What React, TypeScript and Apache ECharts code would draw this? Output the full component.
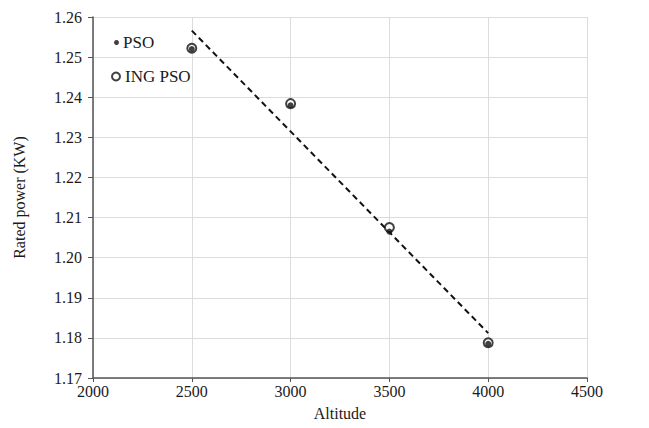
import React, { useEffect, useRef } from "react";
import * as echarts from "echarts";

const altitudes = [2500, 3000, 3500, 4000];
const psoValues = [1.252, 1.238, 1.2065, 1.1785];
const ingPsoValues = [1.2522, 1.2384, 1.2075, 1.1788];
const trendX = [2500, 4000];
const trendY = [1.2566, 1.1812];

const xTicks = { min: 2000, max: 4500, interval: 500 };
const yTicks = { min: 1.17, max: 1.26, interval: 0.01 };

const FONT = "'Liberation Serif', 'Times New Roman', serif";

export default function App() {
  const ref = useRef<HTMLDivElement>(null);
  useEffect(() => {
    if (!ref.current) return;
    const chart = echarts.init(ref.current, undefined, { renderer: "svg" });
    chart.setOption({
      animation: false,
      backgroundColor: "#ffffff",
      textStyle: { fontFamily: FONT },
      grid: { left: 93, right: 62, top: 17, bottom: 50 },
      legend: [
        {
          data: [{ name: "PSO", icon: "circle" }],
          left: 109,
          top: 29,
          itemWidth: 5,
          itemHeight: 5,
          itemGap: 6,
          itemStyle: { color: "#111" },
          textStyle: { fontFamily: FONT, fontSize: 17, color: "#1a1a1a", padding: [0, 0, 0, -1] },
        },
        {
          data: [{ name: "ING PSO", icon: "emptyCircle" }],
          left: 106,
          top: 63,
          itemWidth: 8,
          itemHeight: 8,
          textStyle: { fontFamily: FONT, fontSize: 17, color: "#1a1a1a" },
        },
      ],
      xAxis: {
        type: "value",
        min: xTicks.min,
        max: xTicks.max,
        interval: xTicks.interval,
        name: "Altitude",
        nameLocation: "middle",
        nameGap: 27,
        nameTextStyle: { fontFamily: FONT, fontSize: 16, color: "#1a1a1a" },
        axisLine: { show: true, lineStyle: { color: "#555", width: 1.5 } },
        axisTick: { show: true, length: 4, lineStyle: { color: "#555" } },
        axisLabel: {
          fontFamily: FONT,
          fontSize: 16,
          color: "#1a1a1a",
          margin: 5,
          formatter: (v: number) => String(v),
        },
        splitLine: { show: true, lineStyle: { color: "#dcdcdc", width: 1 } },
      },
      yAxis: {
        type: "value",
        min: yTicks.min,
        max: yTicks.max,
        interval: yTicks.interval,
        name: "Rated power (KW)",
        nameLocation: "middle",
        nameGap: 66,
        nameTextStyle: { fontFamily: FONT, fontSize: 16, color: "#1a1a1a" },
        axisLine: { show: true, lineStyle: { color: "#555", width: 1.5 } },
        axisTick: { show: true, length: 5, lineStyle: { color: "#555" } },
        axisLabel: {
          fontFamily: FONT,
          fontSize: 16,
          color: "#1a1a1a",
          margin: 11,
          formatter: (v: number) => v.toFixed(2),
        },
        splitLine: { show: true, lineStyle: { color: "#dcdcdc", width: 1 } },
      },
      series: [
        {
          name: "trend",
          type: "line",
          data: trendX.map((x, i) => [x, trendY[i]]),
          symbol: "none",
          lineStyle: { color: "#111", width: 2, type: [6, 4] },
          silent: true,
          z: 1,
        },
        {
          name: "ING PSO",
          type: "scatter",
          data: altitudes.map((x, i) => [x, ingPsoValues[i]]),
          symbol: "emptyCircle",
          symbolSize: 9,
          itemStyle: { color: "#111", borderColor: "#111", borderWidth: 1.5 },
          z: 3,
        },
        {
          name: "PSO",
          type: "scatter",
          data: altitudes.map((x, i) => [x, psoValues[i]]),
          symbol: "circle",
          symbolSize: 6,
          itemStyle: { color: "#111" },
          z: 4,
        },
      ],
    });
    return () => chart.dispose();
  }, []);
  return (
    <div
      ref={ref}
      style={{ position: "absolute", left: 0, top: 0, width: 649, height: 428 }}
    />
  );
}
